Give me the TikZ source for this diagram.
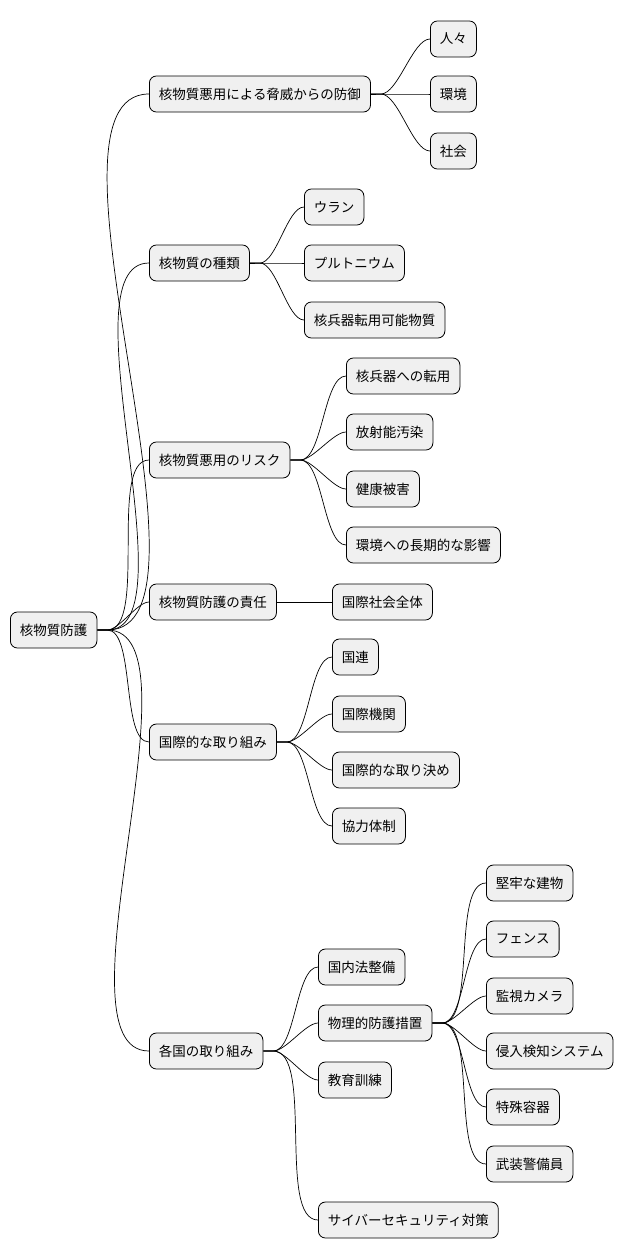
\documentclass[tikz,border=0pt]{standalone}
\usepackage{fontspec}
\setmainfont{Noto Sans CJK JP}
\begin{document}
\begin{tikzpicture}[x=1pt,y=1pt,
  box/.style={draw=black,fill=black!6,rounded corners=7pt,minimum height=36pt,inner xsep=9.5pt,anchor=west,font=\fontsize{13.5}{15}\selectfont,line width=0.8pt},
  ln/.style={line width=0.7pt}]
\useasboundingbox (0,0) rectangle (628,-1259);
\node[box] (r) at (10,-630) {核物質防護};
\node[box] (a) at (149,-94) {核物質悪用による脅威からの防御};
\node[box] (b) at (149,-263) {核物質の種類};
\node[box] (c) at (149,-460) {核物質悪用のリスク};
\node[box] (d) at (149,-602) {核物質防護の責任};
\node[box] (e) at (149,-742) {国際的な取り組み};
\node[box] (f) at (149,-1051) {各国の取り組み};
\node[box] (a1) at (430,-39) {人々};
\node[box] (a2) at (430,-94) {環境};
\node[box] (a3) at (430,-151) {社会};
\node[box] (b1) at (304,-207) {ウラン};
\node[box] (b2) at (304,-263) {プルトニウム};
\node[box] (b3) at (304,-320) {核兵器転用可能物質};
\node[box] (c1) at (346,-376) {核兵器への転用};
\node[box] (c2) at (346,-432) {放射能汚染};
\node[box] (c3) at (346,-489) {健康被害};
\node[box] (c4) at (346,-545) {環境への長期的な影響};
\node[box] (d1) at (332,-602) {国際社会全体};
\node[box] (e1) at (332,-657) {国連};
\node[box] (e2) at (332,-714) {国際機関};
\node[box] (e3) at (332,-770) {国際的な取り決め};
\node[box] (e4) at (332,-826) {協力体制};
\node[box] (f1) at (318,-967) {国内法整備};
\node[box] (f2) at (318,-1023) {物理的防護措置};
\node[box] (f3) at (318,-1080) {教育訓練};
\node[box] (f4) at (318,-1220) {サイバーセキュリティ対策};
\node[box] (g1) at (486,-883) {堅牢な建物};
\node[box] (g2) at (486,-939) {フェンス};
\node[box] (g3) at (486,-996) {監視カメラ};
\node[box] (g4) at (486,-1051) {侵入検知システム};
\node[box] (g5) at (486,-1107) {特殊容器};
\node[box] (g6) at (486,-1164) {武装警備員};
\foreach \p/\c in {r/a,r/b,r/c,r/d,r/e,r/f,a/a1,a/a2,a/a3,b/b1,b/b2,b/b3,c/c1,c/c2,c/c3,c/c4,d/d1,e/e1,e/e2,e/e3,e/e4,f/f1,f/f2,f/f3,f/f4,f2/g1,f2/g2,f2/g3,f2/g4,f2/g5,f2/g6}
  \draw[ln] (\p.east) -- ++(10,0) to[out=0,in=180,looseness=0.6] (\c.west);
\end{tikzpicture}
\end{document}
